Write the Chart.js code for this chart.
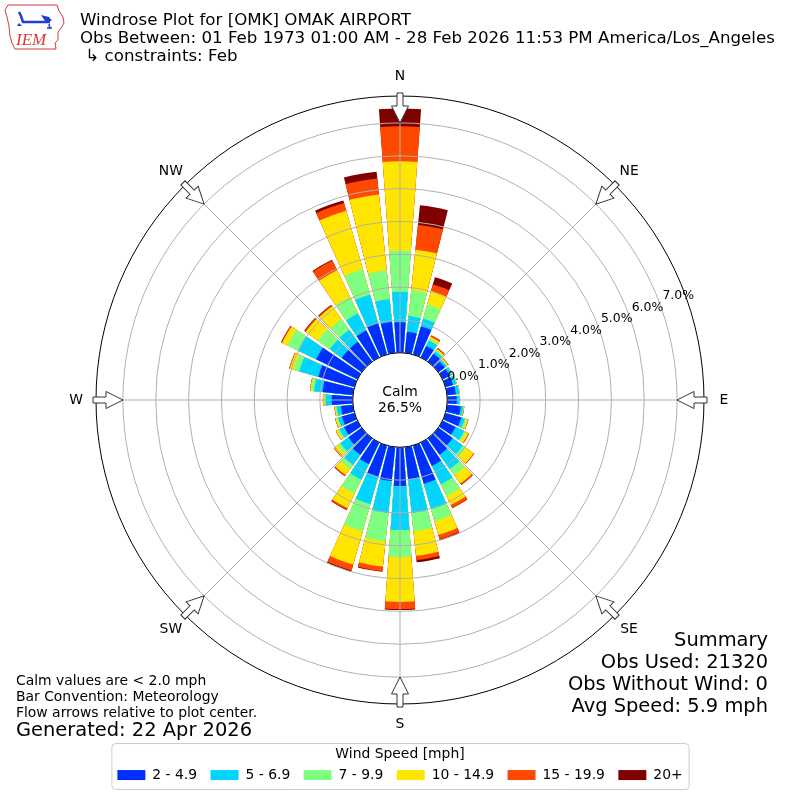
<!DOCTYPE html>
<html>
<head>
<meta charset="utf-8">
<title>Windrose Plot for [OMK] OMAK AIRPORT</title>
<script src="https://cdn.jsdelivr.net/npm/chart.js@4.4.1/dist/chart.umd.min.js"></script>
<style>
  body { margin: 0; background: #fff; font-family: "DejaVu Sans", sans-serif; }
  #wrap { position: relative; width: 800px; height: 800px; overflow: hidden; }
  #windrose { position: absolute; left: 0; top: 0; }
  .txt { position: absolute; white-space: pre; color: #000; }
  #header { left: 80px; top: 11px; font-size: 16.67px; line-height: 18px; }
  #notes { left: 16px; top: 672px; font-size: 13.9px; line-height: 16px; }
  #generated { left: 16px; top: 719px; font-size: 19.44px; line-height: 22px; }
  #summary { right: 32px; top: 629px; font-size: 19.44px; line-height: 22px; text-align: right; }
  #logo { position: absolute; left: 0; top: 0; }
</style>
</head>
<body>
<div id="wrap">
  <canvas id="windrose" width="800" height="800"></canvas>
  <svg id="logo" width="70" height="55" viewBox="0 0 70 55">
    <path d="M8,5 L57,5 L59,11 L63,17 L64,23 L61,28 L58,32 L58,40 L55,43 L56,49 L15,49 L12,43 L10,36 L9,26 L7,17 L5,10 Z"
          fill="none" stroke="#d8383c" stroke-width="1"/>
    <path d="M19,12 L21,16 L23,22 L50,22" fill="none" stroke="#1f3fcf" stroke-width="2.5"/>
    <path d="M41,15 L49,17 L52,21 L45,21 Z" fill="#1f3fcf"/>
    <path d="M49,24 L50,29 M47,28 L52,28" stroke="#1f3fcf" stroke-width="1.5"/>
    <path d="M19,23 L22,26 L17,26 Z" fill="#1f3fcf"/>
    <text x="16" y="45" font-family="Liberation Serif" font-style="italic" font-size="17" fill="#d8383c">IEM</text>
  </svg>
  <div id="header" class="txt">Windrose Plot for [OMK] OMAK AIRPORT
Obs Between: 01 Feb 1973 01:00 AM - 28 Feb 2026 11:53 PM America/Los_Angeles
 ↳ constraints: Feb</div>
  <div id="notes" class="txt">Calm values are &lt; 2.0 mph
Bar Convention: Meteorology
Flow arrows relative to plot center.</div>
  <div id="generated" class="txt">Generated: 22 Apr 2026</div>
  <div id="summary" class="txt">Summary
Obs Used: 21320
Obs Without Wind: 0
Avg Speed: 5.9 mph</div>
</div>

<script>
// wind direction bins (degrees, direction the wind blows from)
const DIRECTIONS = [0, 10, 20, 30, 40, 50, 60, 70, 80, 90, 100, 110, 120, 130, 140, 150, 160, 170,
                    180, 190, 200, 210, 220, 230, 240, 250, 260, 270, 280, 290, 300, 310, 320, 330, 340, 350];
const COMPASS = ['N', 'NE', 'E', 'SE', 'S', 'SW', 'W', 'NW'];
const SPEED_BINS = ['2 - 4.9', '5 - 6.9', '7 - 9.9', '10 - 14.9', '15 - 19.9', '20+'];
const BIN_COLORS = ['#0030ff', '#00d4ff', '#7fff7f', '#ffe500', '#ff4800', '#800000'];

// frequency [%] per direction for each speed bin
const FREQ_2_5 = [0.93, 0.65, 0.89, 0.39, 0.30, 0.24, 0.24, 0.24, 0.27, 0.29, 0.42, 0.50, 0.44, 0.54, 0.62, 0.79, 1.21, 0.98,
                  1.18, 1.04, 0.99, 0.73, 0.62, 0.50, 0.45, 0.40, 0.37, 0.64, 0.93, 1.15, 1.40, 0.75, 0.75, 0.91, 1.00, 0.95];
const FREQ_5_7 = [0.93, 0.48, 0.25, 0.18, 0.09, 0.07, 0.09, 0.10, 0.10, 0.09, 0.07, 0.11, 0.29, 0.39, 0.53, 0.62, 0.81, 1.04,
                  1.34, 0.98, 0.87, 0.53, 0.38, 0.30, 0.15, 0.12, 0.13, 0.19, 0.26, 0.60, 0.62, 0.45, 0.45, 0.58, 0.90, 0.70];
const FREQ_7_10 = [1.25, 0.79, 0.45, 0.06, 0.05, 0.03, 0.01, 0.01, 0.01, 0.01, 0.02, 0.06, 0.06, 0.11, 0.24, 0.40, 0.38, 0.56,
                   0.83, 0.87, 0.86, 0.47, 0.15, 0.10, 0.06, 0.04, 0.03, 0.03, 0.09, 0.18, 0.35, 0.45, 0.40, 0.56, 0.80, 0.88];
const FREQ_10_15 = [2.72, 1.24, 0.42, 0.07, 0.04, 0.03, 0.00, 0.01, 0.01, 0.00, 0.01, 0.05, 0.09, 0.29, 0.31, 0.30, 0.43, 0.75,
                    1.36, 0.77, 1.05, 0.49, 0.23, 0.13, 0.06, 0.05, 0.03, 0.04, 0.03, 0.12, 0.18, 0.45, 0.48, 0.90, 1.85, 2.32];
const FREQ_15_20 = [1.07, 0.76, 0.21, 0.04, 0.03, 0.02, 0.00, 0.00, 0.00, 0.00, 0.01, 0.01, 0.02, 0.02, 0.04, 0.10, 0.14, 0.13,
                    0.22, 0.14, 0.19, 0.05, 0.04, 0.02, 0.01, 0.01, 0.01, 0.01, 0.01, 0.02, 0.03, 0.04, 0.04, 0.33, 0.25, 0.49];
const FREQ_20_UP = [0.54, 0.60, 0.23, 0.01, 0.01, 0.00, 0.00, 0.00, 0.00, 0.00, 0.00, 0.00, 0.00, 0.00, 0.01, 0.01, 0.03, 0.07,
                    0.03, 0.02, 0.04, 0.02, 0.01, 0.00, 0.00, 0.00, 0.00, 0.00, 0.00, 0.00, 0.01, 0.02, 0.02, 0.03, 0.08, 0.21];
const SERIES = [FREQ_2_5, FREQ_5_7, FREQ_7_10, FREQ_10_15, FREQ_15_20, FREQ_20_UP];

const RING_TICKS = [0, 1, 2, 3, 4, 5, 6, 7];
const CALM_PCT = 26.5;

// radial axis: 0% sits on the calm circle, outer frame a bit past 7%
const R_MIN = -1.44;
const R_MAX = 7.82;
const BAR_DEG = 8.3;
const GAP_DEG = 1.7;
const TICK_LABEL_BEARING = 69.5;

// cumulative totals, laid out as bar / gap slots; north is split in two halves
function stackedRose(seriesList) {
    let running = DIRECTIONS.map(() => 0);
    return seriesList.map(values => {
        running = running.map((t, d) => t + values[d]);
        const slots = [running[0]];
        for (let d = 1; d < DIRECTIONS.length; d++) slots.push(0, running[d]);
        slots.push(0, running[0]);
        return slots;
    });
}

const stacked = stackedRose(SERIES);
const lastSlot = stacked[0].length - 1;

function slotAngle(ctx) {
    const i = ctx.dataIndex;
    if (i === 0 || i === lastSlot) return BAR_DEG / 2;
    return i % 2 ? GAP_DEG : BAR_DEG;
}

const roseOverlay = {
    id: 'roseOverlay',
    afterDraw(chart) {
        const ctx = chart.ctx;
        const scale = chart.scales.r;
        const cx = scale.xCenter, cy = scale.yCenter;
        ctx.save();

        // calm circle
        const r0 = scale.getDistanceFromCenterForValue(0);
        ctx.beginPath();
        ctx.arc(cx, cy, r0, 0, Math.PI * 2);
        ctx.fillStyle = '#fff';
        ctx.fill();
        ctx.strokeStyle = '#000';
        ctx.lineWidth = 1;
        ctx.stroke();
        ctx.fillStyle = '#000';
        ctx.textAlign = 'center';
        ctx.textBaseline = 'middle';
        ctx.font = '13.9px "DejaVu Sans"';
        ctx.fillText('Calm', cx, cy - 8);
        ctx.fillText(CALM_PCT.toFixed(1) + '%', cx, cy + 8);

        // ring labels
        ctx.font = '12.5px "DejaVu Sans"';
        const la = (TICK_LABEL_BEARING - 90) * Math.PI / 180;
        RING_TICKS.forEach(v => {
            const d = scale.getDistanceFromCenterForValue(v) + 20;
            ctx.fillText(v.toFixed(1) + '%', cx + d * Math.cos(la), cy + d * Math.sin(la));
        });

        // flow arrows and compass labels
        const outer = scale.drawingArea;
        const tip = outer - 27, neck = outer - 10, tail = outer + 3;
        ctx.font = '13.9px "DejaVu Sans"';
        COMPASS.forEach((name, i) => {
            const ang = scale.getIndexAngle(i) - Math.PI / 2;
            ctx.save();
            ctx.translate(cx, cy);
            ctx.rotate(ang);
            ctx.beginPath();
            ctx.moveTo(tip, 0);
            ctx.lineTo(neck, -8.5);
            ctx.lineTo(neck, -3);
            ctx.lineTo(tail, -3);
            ctx.lineTo(tail, 3);
            ctx.lineTo(neck, 3);
            ctx.lineTo(neck, 8.5);
            ctx.closePath();
            ctx.fillStyle = '#fff';
            ctx.fill();
            ctx.strokeStyle = '#333';
            ctx.lineWidth = 1;
            ctx.stroke();
            ctx.restore();
            const p = scale.getPointPosition(i, outer + 20);
            ctx.fillStyle = '#000';
            ctx.fillText(name, p.x, p.y);
        });

        // frame round the legend
        const hb = chart.legend.legendHitBoxes;
        if (hb && hb.length) {
            const last = hb[hb.length - 1];
            const x0 = hb[0].left - 6, x1 = last.left + last.width + 6;
            const mid = hb[0].top + hb[0].height / 2;
            const y0 = mid - 32, y1 = mid + 14;
            ctx.beginPath();
            ctx.roundRect(x0 + 0.5, y0 + 0.5, x1 - x0, y1 - y0, 4);
            ctx.strokeStyle = '#cccccc';
            ctx.lineWidth = 1;
            ctx.stroke();
        }
        ctx.restore();
    }
};

Chart.defaults.font.family = '"DejaVu Sans"';
Chart.defaults.color = '#000';

const chart = new Chart(document.getElementById('windrose').getContext('2d'), {
    type: 'polarArea',
    data: {
        labels: COMPASS,
        datasets: SPEED_BINS.map((label, k) => ({
            label: label,
            data: stacked[k],
            backgroundColor: BIN_COLORS[k],
            borderWidth: 0,
            angle: slotAngle
        }))
    },
    options: {
        responsive: false,
        animation: false,
        layout: { padding: { top: 60, left: 96, right: 96, bottom: 8 } },
        scales: {
            r: {
                min: R_MIN,
                max: R_MAX,
                startAngle: 0,
                ticks: { display: false },
                pointLabels: { display: false },
                grid: {
                    circular: true,
                    z: 1,
                    lineWidth: 1,
                    color: c => (c.tick && c.tick.value >= R_MAX) ? '#000000' : '#b0b0b0'
                },
                angleLines: { display: true, color: '#b0b0b0', lineWidth: 1 },
                afterBuildTicks: s => {
                    s.ticks = RING_TICKS.concat([R_MAX]).map(v => ({ value: v }));
                },
                afterFit: s => {
                    s.xCenter = Math.round(s.chart.width / 2);
                    s.yCenter = Math.round(s.chart.height / 2);
                }
            }
        },
        plugins: {
            tooltip: { enabled: false },
            legend: {
                position: 'bottom',
                title: {
                    display: true,
                    text: 'Wind Speed [mph]',
                    font: { size: 13.9 },
                    padding: { top: 15, bottom: -9 }
                },
                labels: {
                    boxWidth: 28,
                    boxHeight: 10,
                    padding: 13.4,
                    font: { size: 13.9 },
                    generateLabels: c => c.data.datasets.map((ds, i) => ({
                        text: ds.label,
                        fillStyle: ds.backgroundColor,
                        strokeStyle: ds.backgroundColor,
                        lineWidth: 0,
                        hidden: false,
                        datasetIndex: i
                    }))
                }
            }
        }
    },
    plugins: [roseOverlay]
});
</script>
</body>
</html>
